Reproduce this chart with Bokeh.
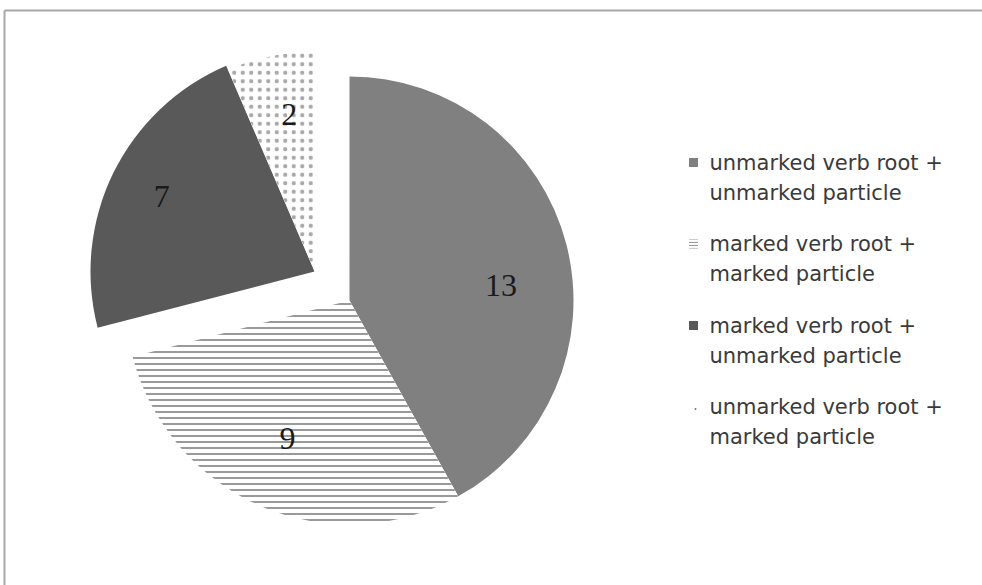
import numpy as np
from bokeh.plotting import figure
from bokeh.models import Range1d
from bokeh.embed import file_html
from bokeh.resources import INLINE
from bokeh.core.properties import value

# ---- data ----
categories = [
    "unmarked verb root + unmarked particle",
    "marked verb root + marked particle",
    "marked verb root + unmarked particle",
    "unmarked verb root + marked particle",
]
legend_lines = [
    ["unmarked verb root +", "unmarked particle"],
    ["marked verb root +", "marked particle"],
    ["marked verb root +", "unmarked particle"],
    ["unmarked verb root +", "marked particle"],
]
counts = [13, 9, 7, 2]

# ---- style ----
fills = ["#808080", "white", "#595959", "white"]
hatches = [" ", "horizontal_line", " ", "dot"]
hatch_colors = ["#808080", "#9a9a9a", "#595959", "#a8a8a8"]
hatch_scales = [6, 6, 6, 8.5]
hatch_weights = [1, 2, 1, 1.0]
explode_dx = [0, 0, -35, -33]
explode_dy = [0, 0, 29, 25]   # upward in data units
label_nudge_deg = [9, 1, 0, 2]
label_frac = [0.68, 0.675, 0.76, 0.73]

W, H = 982, 585
cx, cy, R = 349, H - 300, 224

p = figure(width=W, height=H, x_range=Range1d(0, W), y_range=Range1d(0, H),
           output_backend="svg", toolbar_location=None,
           x_axis_type=None, y_axis_type=None, min_border=0)
p.grid.visible = False
p.outline_line_color = None
p.background_fill_color = "white"
p.border_fill_color = "white"

# frame lines (top and left only, as in the cropped original)
p.segment(x0=[4, 4], y0=[H - 10, H - 10], x1=[W, 4], y1=[H - 10, 0],
          line_color="#a8a8a8", line_width=2)

total = float(sum(counts))
cum = np.concatenate([[0], np.cumsum(counts)]) / total * 360.0  # clockwise from top

for i, c in enumerate(counts):
    a0, a1 = cum[i], cum[i + 1]
    x = cx + explode_dx[i]
    y = cy + explode_dy[i]
    p.wedge(x=[x], y=[y], radius=R,
            start_angle=np.deg2rad(90 - a1), end_angle=np.deg2rad(90 - a0),
            fill_color=fills[i], line_color=None,
            hatch_pattern=hatches[i], hatch_color=hatch_colors[i],
            hatch_scale=hatch_scales[i], hatch_weight=hatch_weights[i])
    mid = np.deg2rad((a0 + a1) / 2 + label_nudge_deg[i])
    lr = label_frac[i] * R
    p.text(x=[x + lr * np.sin(mid)], y=[y + lr * np.cos(mid)], text=[str(c)],
           text_font=value("Liberation Serif"), text_font_size="32px",
           text_color="#1a1a1a", text_align="center", text_baseline="middle")

# legend
lx, ly0, step, lh = 693, H - 162, 81.5, 30
for i, lines in enumerate(legend_lines):
    yy = ly0 - i * step
    if i == 3:
        p.scatter(x=[lx + 2], y=[yy - 2], size=2, marker="circle",
                  fill_color="#777777", line_color=None)
    else:
        p.rect(x=[lx], y=[yy], width=9, height=9,
               fill_color=fills[i], line_color=None,
               hatch_pattern=hatches[i], hatch_color=hatch_colors[i],
               hatch_scale=3, hatch_weight=1.2)
    for j, t in enumerate(lines):
        p.text(x=[lx + 16], y=[yy - j * lh], text=[t],
               text_font=value("DejaVu Sans"), text_font_size="21px",
               text_color="#3a3a3a", text_align="left", text_baseline="middle")

open("out.html", "w").write(file_html(p, INLINE))
